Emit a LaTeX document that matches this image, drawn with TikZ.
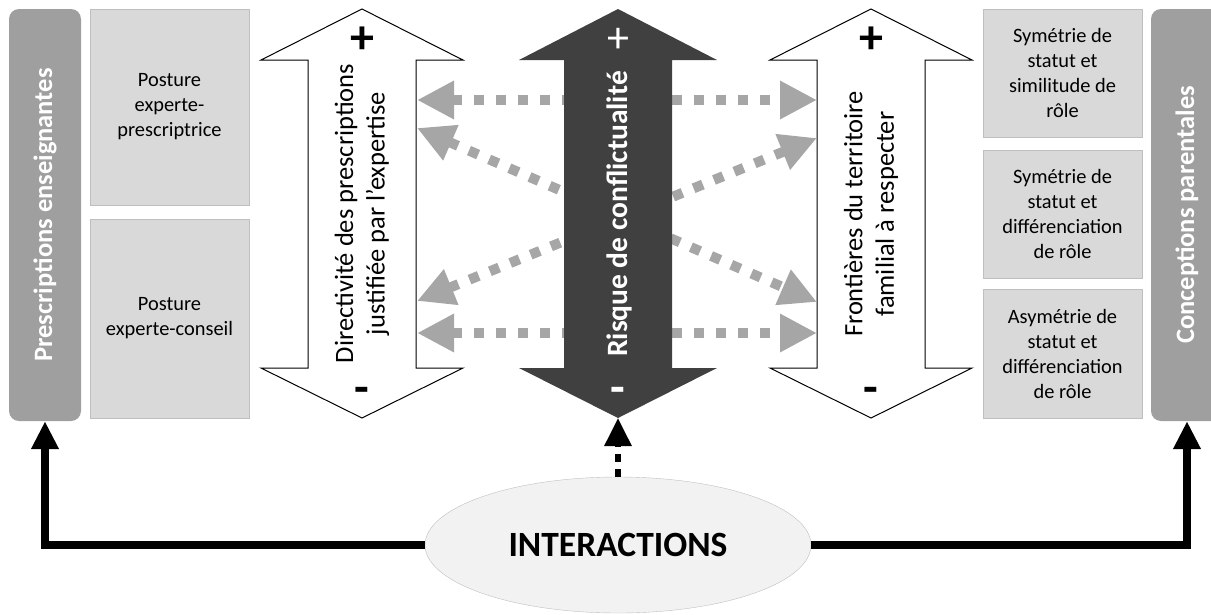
\documentclass[tikz,border=0pt]{standalone}
\usepackage{fontspec}
\usepackage{graphicx}
\setmainfont{Carlito}
\usetikzlibrary{shapes,shapes.geometric,arrows.meta,calc}
\definecolor{grisBarre}{HTML}{9F9F9F}
\definecolor{grisBoite}{HTML}{D9D9D9}
\definecolor{grisBord}{HTML}{BFBFBF}
\definecolor{grisSombre}{HTML}{404040}
\definecolor{grisPoint}{HTML}{A6A6A6}
\definecolor{grisOvale}{HTML}{F2F2F2}

\begin{document}
\begin{tikzpicture}
[x=1pt,y=-1pt,
boite/.style={shape=rectangle,draw=grisBord,fill=grisBoite,minimum width=159pt,
	inner sep=0pt,align=center,font=\fontsize{20.4}{25}\selectfont},
barre/.style={shape=rectangle,fill=grisBarre,rounded corners=10pt,minimum width=72pt,
	minimum height=412pt,inner sep=0pt,text=white,font=\fontsize{26.5}{30}\selectfont\bfseries},
axe/.style={rotate=90,align=center,inner sep=0pt,font=\fontsize{26.5}{31.5}\selectfont},
signe/.style={anchor=base,inner sep=0pt,font=\fontsize{48}{48}\selectfont\bfseries},
pointille/.style={draw=grisPoint,line width=10pt,dash pattern=on 10pt off 12pt,
	>={Triangle[length=37pt,width=36pt]},<->},
fleche/.style={draw=black,line width=8pt,>={Triangle[length=28pt,width=26pt]},->}]
\useasboundingbox (0,0) rectangle (1211,614);

\node[barre] (pe) at (45,215) {\rotatebox{90}{Prescriptions enseignantes}};
\node[barre] (cp) at (1187,215) {\rotatebox{90}{Conceptions parentales}};

\node[boite,minimum height=196pt] (pe1) at (169.5,107) {Posture\\experte-\\prescriptrice};
\node[boite,minimum height=199pt] (pe2) at (169.5,318.5) {Posture\\experte-conseil};
\node[boite,minimum height=128pt] (cp1) at (1062.5,73) {Symétrie de\\statut et\\similitude de\\rôle};
\node[boite,minimum height=128pt] (cp2) at (1062.5,214) {Symétrie de\\statut et\\différenciation\\de rôle};
\node[boite,minimum height=129pt] (cp3) at (1062.5,353.5) {Asymétrie de\\statut et\\différenciation\\de rôle};

\foreach \cx in {362,871}
{
	\draw[fill=white,line width=1pt] (\cx,9) -- (\cx+101,60) -- (\cx+54,60) -- (\cx+54,368)
	-- (\cx+101,368) -- (\cx,418) -- (\cx-101,368) -- (\cx-54,368) -- (\cx-54,60)
	-- (\cx-101,60) -- cycle;
}

\coordinate (g1) at (417,100);
\coordinate (g2) at (417,128);
\coordinate (g3) at (417,301);
\coordinate (g4) at (417,333);
\coordinate (d1) at (817,100);
\coordinate (d2) at (817,138);
\coordinate (d3) at (817,302);
\coordinate (d4) at (817,333);
\path
\foreach \leftPt/\rightPt in {g1/d1, g2/d3, g3/d2, g4/d4}
{
	(\leftPt) edge[pointille] (\rightPt)
};

\fill[grisSombre] (618,9) -- (717,60) -- (672,60) -- (672,368) -- (717,368) -- (618,418)
-- (519,368) -- (564,368) -- (564,60) -- (519,60) -- cycle;
\coordinate (rtip) at (618,418);

\node[axe] (dir) at (362,213.5) {Directivité des prescriptions\\justifiée par l'expertise};
\node[axe] (front) at (871,214) {Frontières du territoire\\familial à respecter};
\node[axe,text=white,font=\fontsize{29.5}{33}\selectfont\bfseries] (risque) at (619,214) {Risque de conflictualité};

\node[signe] (p1) at (362,53) {+};
\node[signe] (m1) at (362,403) {-};
\node[signe,text=white,font=\fontsize{44}{44}\selectfont] (p2) at (618,52) {+};
\node[signe,text=white] (m2) at (618,403) {-};
\node[signe] (p3) at (871,53) {+};
\node[signe] (m3) at (871,403) {-};

\node[shape=ellipse,draw=grisBord,fill=grisOvale,minimum width=386pt,minimum height=136pt,
	inner sep=0pt,font=\fontsize{35.5}{40}\selectfont\bfseries] (inter) at (618,545) {INTERACTIONS};

\draw[fleche] (inter.west) -| (pe.south);
\draw[fleche] (inter.east) -| (cp.south);
\draw[fleche,line width=6pt,dash pattern=on 8pt off 7pt] (inter.north) -- (rtip);
\end{tikzpicture}
\end{document}
